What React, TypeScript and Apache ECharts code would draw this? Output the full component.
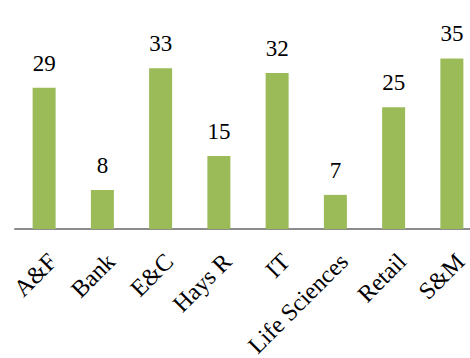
import React, { useEffect, useRef } from "react";
import * as echarts from "echarts";

const categories = ["A&F", "Bank", "E&C", "Hays R", "IT", "Life Sciences", "Retail", "S&M"];
const values = [29, 8, 33, 15, 32, 7, 25, 35];

const FONT = "'Liberation Serif', 'DejaVu Serif', serif";

export default function App() {
  const ref = useRef<HTMLDivElement>(null);
  useEffect(() => {
    const chart = echarts.init(ref.current!, null, { renderer: "svg" });
    chart.setOption({
      animation: false,
      textStyle: { fontFamily: FONT },
      grid: {
        left: 15,
        top: 34,
        width: 466,
        height: 195,
        containLabel: false,
        outerBoundsMode: "none",
      },
      xAxis: {
        type: "category",
        data: categories,
        axisLine: { show: true, lineStyle: { color: "#8c8c8c", width: 2 } },
        axisTick: { show: false },
        axisLabel: {
          rotate: 45,
          interval: 0,
          margin: 20,
          verticalAlign: "top",
          color: "#000",
          fontFamily: FONT,
          fontSize: 24,
        },
      },
      yAxis: {
        type: "value",
        min: 0,
        max: 40,
        show: false,
        splitLine: { show: false },
      },
      series: [
        {
          type: "bar",
          data: values,
          barWidth: 23,
          itemStyle: { color: "#9BBB59" },
          label: {
            show: true,
            position: "top",
            distance: 13,
            color: "#000",
            fontFamily: FONT,
            fontSize: 23,
          },
        },
      ],
    });
    return () => chart.dispose();
  }, []);
  return <div ref={ref} style={{ width: 470, height: 358, position: "absolute", left: 0, top: 0 }} />;
}
